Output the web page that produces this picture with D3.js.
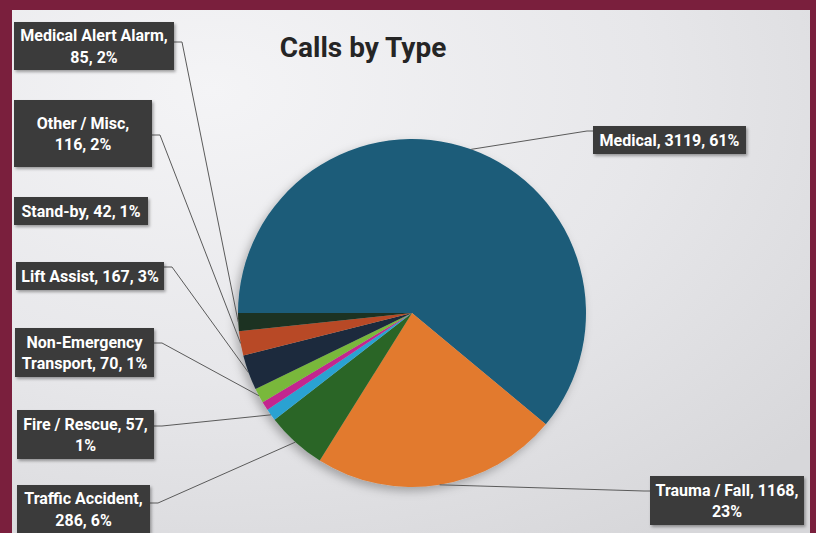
<!DOCTYPE html>
<html>
<head>
<meta charset="utf-8">
<script src="https://cdn.jsdelivr.net/npm/d3@7"></script>
<style>
  html, body { margin: 0; padding: 0; background: #7a1f3d; }
  svg { display: block; }
</style>
</head>
<body>
<svg id="chart" width="816" height="533"></svg>
<script>
// Call categories in drawing order (clockwise from the 9 o'clock position)
const categories = [
  "Medical", "Trauma / Fall", "Traffic Accident", "Fire / Rescue",
  "Stand-by", "Non-Emergency Transport", "Lift Assist", "Other / Misc",
  "Medical Alert Alarm"
];
const callCounts = [3119, 1168, 286, 57, 42, 70, 167, 116, 85];
const percentLabels = ["61%", "23%", "6%", "1%", "1%", "1%", "3%", "2%", "2%"];
const sliceColors = [
  "#1b5c79", "#e27a2e", "#2b6528", "#2ba2d2", "#c3288f",
  "#79b83b", "#1b2c3d", "#b84a25", "#1f3122"
];

// Label box text lines (as wrapped in the chart)
const labelLines = [
  ["Medical, 3119, 61%"],
  ["Trauma / Fall, 1168,", "23%"],
  ["Traffic Accident,", "286, 6%"],
  ["Fire / Rescue, 57,", "1%"],
  ["Stand-by, 42, 1%"],
  ["Non-Emergency", "Transport, 70, 1%"],
  ["Lift Assist, 167, 3%"],
  ["Other / Misc,", "116, 2%"],
  ["Medical Alert Alarm,", "85, 2%"]
];

// Label box placement: box rect, leader anchor side, whether a leader is drawn
const labelBoxes = [
  { x: 593, y: 126, w: 153, h: 28, side: "left",  leader: true,  ay: 131 },
  { x: 650, y: 476, w: 154, h: 49, side: "left",  leader: true,  ay: 491 },
  { x: 17,  y: 485, w: 133, h: 48, side: "right", leader: true,  ay: 503 },
  { x: 17,  y: 410, w: 137, h: 49, side: "right", leader: true,  ay: 426 },
  { x: 14,  y: 197, w: 134, h: 28, side: "right", leader: false, ay: 210 },
  { x: 15,  y: 328, w: 139, h: 49, side: "right", leader: true,  ay: 343 },
  { x: 16,  y: 262, w: 148, h: 28, side: "right", leader: true,  ay: 267 },
  { x: 14,  y: 100, w: 138, h: 67, side: "right", leader: true,  ay: 135 },
  { x: 14,  y: 22,  w: 160, h: 48, side: "right", leader: true,  ay: 42 }
];

const W = 816, H = 533;
const cx = 412, cy = 313, radius = 174;

const svg = d3.select("#chart");
const defs = svg.append("defs");

// Panel background: soft light-grey gradient
const bg = defs.append("radialGradient")
  .attr("id", "panelGrad")
  .attr("cx", "0.25").attr("cy", "0.15").attr("r", "1.0");
bg.append("stop").attr("offset", "0%").attr("stop-color", "#f4f4f6");
bg.append("stop").attr("offset", "55%").attr("stop-color", "#e7e7ea");
bg.append("stop").attr("offset", "100%").attr("stop-color", "#d7d7da");

const pieShadow = defs.append("filter").attr("id", "pieShadow")
  .attr("x", "-20%").attr("y", "-20%").attr("width", "140%").attr("height", "140%");
pieShadow.append("feDropShadow")
  .attr("dx", -3).attr("dy", 4).attr("stdDeviation", 5)
  .attr("flood-color", "#000").attr("flood-opacity", 0.28);

const boxShadow = defs.append("filter").attr("id", "boxShadow")
  .attr("x", "-10%").attr("y", "-20%").attr("width", "120%").attr("height", "150%");
boxShadow.append("feDropShadow")
  .attr("dx", 1.5).attr("dy", 2).attr("stdDeviation", 1.5)
  .attr("flood-color", "#000").attr("flood-opacity", 0.35);

// Maroon frame with the chart panel inside
svg.append("rect").attr("width", W).attr("height", H).attr("fill", "#7a1f3d");
svg.append("rect")
  .attr("x", 12).attr("y", 10).attr("width", 798).attr("height", H)
  .attr("fill", "url(#panelGrad)");

// Title
svg.append("text")
  .attr("x", 363).attr("y", 57)
  .attr("text-anchor", "middle")
  .attr("font-family", "Roboto, 'Open Sans', sans-serif")
  .attr("font-weight", 700)
  .attr("font-size", 28)
  .attr("fill", "#252525")
  .text("Calls by Type");

// Pie
const data = categories.map((c, i) => ({ name: c, value: callCounts[i], i }));
const pie = d3.pie().value(d => d.value).sort(null)
  .startAngle(-Math.PI / 2).endAngle(1.5 * Math.PI);
const arcs = pie(data);
const arc = d3.arc().innerRadius(0).outerRadius(radius);
const colorScale = d3.scaleOrdinal().domain(categories).range(sliceColors);

const pieG = svg.append("g")
  .attr("transform", `translate(${cx},${cy})`)
  .attr("filter", "url(#pieShadow)");
pieG.selectAll("path")
  .data(arcs)
  .join("path")
  .attr("d", arc)
  .attr("fill", d => colorScale(d.data.name));

// Leader lines from slice edge (mid-angle) to label boxes
const edgePoint = d => {
  const a = (d.startAngle + d.endAngle) / 2;
  return [cx + radius * Math.sin(a), cy - radius * Math.cos(a)];
};
const leaderG = svg.append("g");
arcs.forEach((d, i) => {
  const b = labelBoxes[i];
  if (!b.leader) return;
  const p = edgePoint(d);
  const ax = b.side === "right" ? b.x + b.w : b.x;
  const elbow = b.side === "right" ? ax + 8 : ax - 6;
  leaderG.append("path")
    .attr("d", d3.line()([p, [elbow, b.ay], [ax, b.ay]]))
    .attr("fill", "none")
    .attr("stroke", "#5a5a5a")
    .attr("stroke-width", 1);
});

// Label boxes
const labelG = svg.append("g");
arcs.forEach((d, i) => {
  const b = labelBoxes[i];
  const g = labelG.append("g");
  g.append("rect")
    .attr("x", b.x).attr("y", b.y).attr("width", b.w).attr("height", b.h)
    .attr("fill", "#3a3a3a")
    .attr("filter", "url(#boxShadow)");
  const lines = labelLines[i];
  const lh = 21.5;
  const midY = b.y + b.h / 2;
  const firstY = midY - (lines.length - 1) * lh / 2;
  lines.forEach((t, k) => {
    g.append("text")
      .attr("x", b.x + b.w / 2)
      .attr("y", firstY + k * lh)
      .attr("dy", "0.36em")
      .attr("text-anchor", "middle")
      .attr("font-family", "Roboto, 'Open Sans', sans-serif")
      .attr("font-weight", 700)
      .attr("font-size", 16)
      .attr("fill", "#ffffff")
      .text(t);
  });
});
</script>
</body>
</html>
